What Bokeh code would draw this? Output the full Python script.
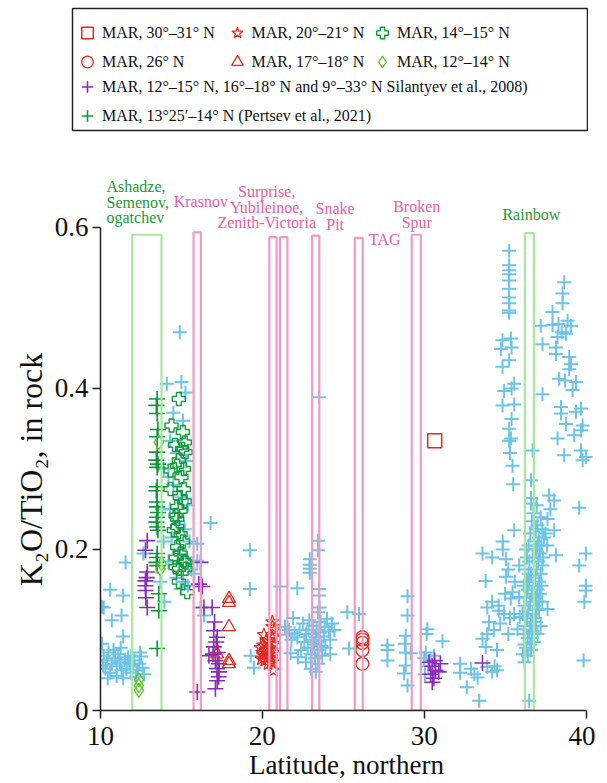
from bokeh.plotting import figure
from bokeh.models import Range1d, FixedTicker, Legend, LegendItem
from bokeh.core.properties import value
from bokeh.embed import file_html
from bokeh.resources import INLINE

FONT = "Liberation Serif"

# ---------------- data (latitude, K2O/TiO2) ----------------
other_points = [
    (10.2, 0.128), (10.6, 0.150), (11.4, 0.143), (11.55, 0.184), (10.7, 0.112), (11.3, 0.118),
    (11.4, 0.092), (10.1, 0.083), (10.1, 0.129), (10.2, 0.068), (10.4, 0.062), (10.5, 0.072),
    (10.7, 0.058), (10.9, 0.065), (11.0, 0.055), (11.1, 0.070), (11.2, 0.060), (11.3, 0.050),
    (11.5, 0.063), (11.6, 0.052), (11.8, 0.058), (11.9, 0.047), (12.0, 0.055), (12.1, 0.062),
    (12.3, 0.050), (12.4, 0.058), (12.6, 0.053), (12.7, 0.045), (10.3, 0.052), (10.6, 0.047),
    (11.0, 0.043), (11.4, 0.040), (11.7, 0.066), (12.2, 0.042), (10.15, 0.056), (11.9, 0.068),
    (12.5, 0.067), (12.65, 0.195), (10.8, 0.075), (11.25, 0.078), (12.45, 0.072), (10.45, 0.04),
    (14.9, 0.470), (14.1, 0.406), (15.0, 0.408), (15.25, 0.395), (14.5, 0.370), (15.1, 0.360),
    (14.3, 0.335), (14.7, 0.320), (15.3, 0.310), (14.2, 0.290), (14.5, 0.280), (15.0, 0.265),
    (15.4, 0.255), (14.3, 0.250), (14.8, 0.235), (15.2, 0.225), (14.4, 0.215), (15.5, 0.210),
    (14.9, 0.200), (15.3, 0.190), (14.2, 0.185), (15.6, 0.175), (14.7, 0.165), (15.1, 0.160),
    (15.4, 0.155), (14.95, 0.151), (15.8, 0.170), (13.9, 0.300), (13.8, 0.250), (13.9, 0.210),
    (13.7, 0.160), (13.95, 0.135),
    (15.98, 0.207), (16.8, 0.233), (16.18, 0.128), (16.4, 0.118), (15.98, 0.186),
    (19.23, 0.199), (19.23, 0.151), (21.1, 0.154), (22.16, 0.152), (19.28, 0.068), (19.48, 0.053),
    (21.75, 0.071),
    (23.44, 0.211), (23.44, 0.199), (22.93, 0.188), (22.93, 0.181), (22.93, 0.176), (22.93, 0.171),
    (23.5, 0.151), (23.5, 0.143), (23.54, 0.128), (23.44, 0.122), (23.5, 0.389),
    (21.4, 0.104), (21.5, 0.094), (21.65, 0.100), (21.8, 0.088), (22.0, 0.096), (22.16, 0.091),
    (22.3, 0.100), (22.5, 0.108), (22.6, 0.085), (22.7, 0.095), (22.8, 0.078), (22.85, 0.100),
    (22.9, 0.112), (23.0, 0.070), (23.05, 0.088), (23.1, 0.095), (23.15, 0.105), (23.2, 0.082),
    (23.25, 0.065), (23.3, 0.091), (23.35, 0.100), (23.4, 0.075), (23.45, 0.058), (23.5, 0.086),
    (23.55, 0.097), (23.6, 0.110), (23.65, 0.080), (23.7, 0.068), (23.8, 0.092), (23.85, 0.104),
    (23.9, 0.078), (24.0, 0.114), (24.1, 0.098), (24.2, 0.088), (24.3, 0.108), (24.45, 0.100),
    (23.0, 0.052), (22.7, 0.060), (23.3, 0.048), (24.2, 0.070), (22.4, 0.075), (21.9, 0.115),
    (22.2, 0.066),
    (25.25, 0.122), (25.97, 0.120), (25.36, 0.077),
    (27.73, 0.081), (27.73, 0.075), (27.73, 0.062), (28.97, 0.142), (28.97, 0.118), (28.86, 0.093),
    (28.8, 0.083), (28.86, 0.072), (29.17, 0.071), (28.86, 0.056), (28.76, 0.046), (28.97, 0.031),
    (30.2, 0.101), (30.15, 0.095), (31.13, 0.086), (30.1, 0.072), (30.4, 0.062), (30.0, 0.065),
    (30.25, 0.055), (30.6, 0.068), (30.05, 0.045),
    (32.22, 0.058), (32.22, 0.047), (32.64, 0.029), (33.4, 0.012), (33.3, 0.041), (34.5, 0.050),
    (33.9, 0.054), (34.2, 0.048), (34.35, 0.055), (32.9, 0.052), (33.1, 0.045),
    (33.6, 0.089), (33.9, 0.095), (33.8, 0.079), (34.5, 0.075), (34.0, 0.110), (34.7, 0.108),
    (35.2, 0.095), (33.9, 0.128), (34.2, 0.135), (34.6, 0.124), (34.94, 0.120), (35.46, 0.147),
    (35.35, 0.139), (35.87, 0.141), (35.56, 0.120), (35.9, 0.116), (35.77, 0.101), (33.8, 0.161),
    (35.05, 0.166), (33.6, 0.195), (34.2, 0.190), (34.85, 0.200), (34.85, 0.210), (35.05, 0.188),
    (35.56, 0.224), (35.87, 0.180), (35.5, 0.281), (34.6, 0.130), (35.0, 0.145), (35.3, 0.115),
    (34.3, 0.100), (35.6, 0.160), (35.2, 0.175),
    (36.1, 0.070), (36.2, 0.082), (36.15, 0.095), (36.3, 0.078), (36.25, 0.105), (36.4, 0.090),
    (36.35, 0.115), (36.5, 0.100), (36.45, 0.125), (36.6, 0.110), (36.55, 0.135), (36.7, 0.120),
    (36.65, 0.145), (36.8, 0.130), (36.75, 0.155), (36.9, 0.140), (36.85, 0.165), (37.0, 0.150),
    (36.95, 0.175), (37.1, 0.160), (37.05, 0.185), (37.2, 0.170), (37.15, 0.195), (37.3, 0.180),
    (37.25, 0.205), (37.35, 0.190), (37.1, 0.215), (37.3, 0.225), (37.2, 0.240), (37.0, 0.230),
    (36.9, 0.200), (36.8, 0.210), (36.7, 0.190), (36.6, 0.170), (36.5, 0.160), (36.4, 0.150),
    (36.3, 0.140), (36.2, 0.130), (36.1, 0.120), (36.15, 0.155), (36.25, 0.175), (36.35, 0.190),
    (36.45, 0.205), (36.55, 0.220), (36.65, 0.235), (36.75, 0.245), (36.2, 0.060), (36.4, 0.068),
    (36.6, 0.075), (36.8, 0.085), (37.0, 0.095), (37.2, 0.105), (36.9, 0.110), (37.1, 0.125),
    (37.3, 0.135), (36.3, 0.200), (36.5, 0.185), (36.95, 0.255), (37.4, 0.215), (36.7, 0.098),
    (36.85, 0.115), (36.95, 0.125), (37.05, 0.135), (36.75, 0.105), (36.65, 0.09), (36.55, 0.082),
    (37.15, 0.145), (37.25, 0.155), (36.45, 0.17), (36.35, 0.16), (37.0, 0.205), (36.9, 0.225),
    (37.62, 0.238), (38.03, 0.224), (37.72, 0.267), (38.03, 0.261), (38.14, 0.193), (37.62, 0.126),
    (39.58, 0.252), (39.99, 0.195), (39.58, 0.180), (39.99, 0.155), (39.99, 0.149), (39.9, 0.135),
    (39.85, 0.062), (36.49, 0.012), (36.6, 0.286), (36.6, 0.264), (36.6, 0.257), (37.6, 0.205),
    (37.8, 0.250), (37.5, 0.220),
    (35.25, 0.571), (35.25, 0.553), (35.25, 0.547), (35.25, 0.542), (35.25, 0.534), (35.25, 0.524),
    (35.25, 0.513), (35.25, 0.506), (35.25, 0.497), (35.25, 0.494), (34.84, 0.460), (35.36, 0.462),
    (35.4, 0.451), (34.74, 0.449), (35.25, 0.435), (34.84, 0.427), (35.56, 0.406), (34.94, 0.397),
    (35.4, 0.400), (34.84, 0.379), (35.56, 0.380), (35.4, 0.362), (35.25, 0.350), (35.36, 0.338),
    (35.25, 0.335), (35.46, 0.304), (35.3, 0.320),
    (38.65, 0.532), (38.55, 0.518), (38.55, 0.506), (37.93, 0.495), (37.2, 0.478), (37.93, 0.479),
    (38.86, 0.484), (39.07, 0.478), (38.76, 0.468), (38.24, 0.464), (37.31, 0.455), (38.14, 0.451),
    (38.14, 0.443), (38.96, 0.439), (39.07, 0.430), (38.96, 0.424), (38.34, 0.412), (38.7, 0.410),
    (39.38, 0.408), (39.17, 0.398), (37.31, 0.393), (38.45, 0.377), (38.45, 0.369), (39.38, 0.371),
    (39.69, 0.375), (38.76, 0.356), (39.79, 0.354), (39.69, 0.348), (38.24, 0.338), (39.27, 0.342),
    (39.69, 0.323), (39.99, 0.315), (39.79, 0.311), (38.65, 0.317), (36.7, 0.323), (38.5, 0.470),
    (38.3, 0.480),
]

silantyev_points = [
    (12.89, 0.211), (12.78, 0.199), (12.89, 0.172), (12.78, 0.161), (12.78, 0.155), (12.78, 0.149),
    (12.89, 0.128), (12.85, 0.165), (12.8, 0.140),
    (16.18, 0.184), (16.08, 0.157), (16.29, 0.154), (16.39, 0.128), (16.9, 0.128), (17.0, 0.099),
    (17.21, 0.091), (17.0, 0.079), (16.7, 0.068), (17.1, 0.062), (17.32, 0.058), (17.32, 0.048),
    (17.21, 0.037), (17.1, 0.027), (15.98, 0.023), (17.15, 0.085), (17.25, 0.072), (17.05, 0.110),
    (16.95, 0.070), (17.2, 0.052), (17.3, 0.042),
    (30.3, 0.060), (30.5, 0.055), (30.7, 0.050), (30.4, 0.045), (30.6, 0.040), (30.5, 0.035),
    (30.9, 0.048), (31.0, 0.058), (30.65, 0.062), (33.6, 0.059),
]

pertsev_points = [
    (13.5, 0.387), (13.45, 0.379), (13.5, 0.369), (13.55, 0.349), (13.5, 0.340), (13.5, 0.321),
    (13.45, 0.311), (13.55, 0.306), (13.5, 0.302), (13.5, 0.278), (13.45, 0.273), (13.5, 0.259),
    (13.5, 0.253), (13.55, 0.246), (13.5, 0.240), (13.45, 0.234), (13.5, 0.228), (13.55, 0.224),
    (13.5, 0.195), (13.5, 0.190), (13.45, 0.184), (13.5, 0.180), (13.6, 0.145), (13.6, 0.124),
    (13.5, 0.077),
]

mar14_15_points = [
    (14.84, 0.387), (14.39, 0.354), (15.09, 0.346), (15.21, 0.333), (15.05, 0.325), (15.26, 0.321),
    (14.84, 0.311), (14.74, 0.304), (14.33, 0.298), (15.15, 0.300), (14.33, 0.275), (15.15, 0.275),
    (14.74, 0.253), (14.95, 0.248), (14.64, 0.242), (14.74, 0.228), (14.95, 0.219), (14.74, 0.203),
    (14.64, 0.190), (15.15, 0.186), (15.26, 0.176), (14.64, 0.178), (14.74, 0.238), (14.53, 0.224),
    (14.95, 0.195), (14.84, 0.176), (15.26, 0.184), (15.36, 0.147), (15.0, 0.290), (14.9, 0.265),
    (15.2, 0.260), (14.6, 0.330), (15.1, 0.210), (14.85, 0.160),
]

mar12_14_points = [(12.37, 0.038), (12.37, 0.031), (12.37, 0.025), (13.71, 0.176), (13.78, 0.182), (13.6, 0.333)]
mar17_18_points = [(17.94, 0.139), (17.94, 0.134), (17.94, 0.104), (17.21, 0.070), (17.94, 0.062), (17.94, 0.058)]
mar20_21_points = [
    (20.62, 0.110), (20.62, 0.104), (20.1, 0.094), (20.62, 0.090), (20.72, 0.083), (19.9, 0.078),
    (20.0, 0.072), (20.1, 0.068), (20.2, 0.075), (20.3, 0.065), (20.4, 0.070), (20.5, 0.078),
    (20.6, 0.060), (20.7, 0.072), (20.15, 0.062), (20.35, 0.058), (20.45, 0.085), (20.55, 0.066),
    (20.05, 0.081), (20.25, 0.088), (20.68, 0.050), (20.75, 0.100), (20.3, 0.076), (19.95, 0.064),
]
mar26_points = [(26.18, 0.091), (26.18, 0.088), (26.18, 0.084), (26.18, 0.075), (26.18, 0.058)]
mar30_31_points = [(30.65, 0.335)]

# hydrothermal fields: latitude band and height of frame
field_names = ["Ashadze", "Krasnov", "Surprise", "Yubileinoe", "Snake Pit", "TAG", "Broken Spur", "Rainbow"]
field_west = [11.96, 15.75, 20.43, 21.09, 23.07, 25.71, 29.23, 36.22]
field_east = [13.77, 16.20, 20.88, 21.55, 23.52, 26.20, 29.79, 36.78]
field_top = [0.591, 0.594, 0.588, 0.588, 0.590, 0.587, 0.591, 0.593]
field_green = [True, False, False, False, False, False, False, True]

# field captions (line text, latitude anchor, value anchor)
green_caption_lines = ["Ashadze,", "Semenov,", "ogatchev"]
green_caption_x = [10.37, 10.37, 10.37]
green_caption_y = [0.6515, 0.6316, 0.6130]
pink_caption_lines = ["Krasnov", "Surprise,", "Yubileinoe,", "Zenith-Victoria", "Snake", "Pit", "TAG", "Broken", "Spur"]
pink_caption_x = [16.2, 20.27, 20.27, 20.27, 24.5, 24.5, 27.57, 29.54, 29.54]
pink_caption_y = [0.6329, 0.6453, 0.6254, 0.6062, 0.6242, 0.6043, 0.5857, 0.6258, 0.6064]
rainbow_caption = ["Rainbow"]
rainbow_caption_x = [36.62]
rainbow_caption_y = [0.6164]

x_ticks = [10, 20, 30, 40]
y_ticks = [0, 0.2, 0.4, 0.6]
y_tick_labels = ["0", "0.2", "0.4", "0.6"]

legend_labels = [
    "MAR, 30°–31° N", "MAR, 26° N",
    "MAR, 12°–15° N, 16°–18° N and 9°–33° N Silantyev et al., 2008)",
    "MAR, 13°25′–14° N (Pertsev et al., 2021)",
    "MAR, 20°–21° N", "MAR, 17°–18° N",
    "MAR, 14°–15° N", "MAR, 12°–14° N",
]

# ---------------- colours ----------------
CYAN = "#6ec3e6"
PURPLE = "#8a2cb8"
DGREEN = "#0f963a"
PGREEN = "#139a3c"
LGREEN = "#5cbf2a"
RED = "#e12a1e"
PINK_BOX = "#f29ac3"
GREEN_BOX = "#abe6a0"
PINK_TXT = "#e6619f"
GREEN_TXT = "#1e963c"


def xs(pts):
    return [a for a, b in pts]


def ys(pts):
    return [b for a, b in pts]


STYLES = {
    "other": dict(marker="cross", size=14, line_color=CYAN, line_width=2),
    "silantyev": dict(marker="cross", size=16, line_color=PURPLE, line_width=1.6),
    "pertsev": dict(marker="cross", size=16, line_color=DGREEN, line_width=1.6),
    "m14": dict(marker="plus", size=13, line_color=PGREEN, fill_color=None, line_width=1.4),
    "m12": dict(marker="diamond", size=14, line_color=LGREEN, fill_color=None, line_width=1.3),
    "m17": dict(marker="triangle", size=13, line_color=RED, fill_color=None, line_width=1.3),
    "m20": dict(marker="star", size=14, line_color=RED, fill_color=None, line_width=1.2),
    "m26": dict(marker="circle", size=13, line_color=RED, fill_color=None, line_width=1.3),
    "m30": dict(marker="square", size=14, line_color=RED, fill_color=None, line_width=1.5),
}
SERIES = {
    "other": other_points, "silantyev": silantyev_points, "pertsev": pertsev_points,
    "m14": mar14_15_points, "m12": mar12_14_points, "m17": mar17_18_points,
    "m20": mar20_21_points, "m26": mar26_points, "m30": mar30_31_points,
}

# ---------------- main plot ----------------
p = figure(width=595, height=651, output_backend="svg", toolbar_location=None,
           x_range=Range1d(10, 40.4), y_range=Range1d(0, 0.718),
           min_border_left=100, min_border_right=3, min_border_top=0, min_border_bottom=73)
p.grid.visible = False
p.outline_line_color = None
p.background_fill_color = "white"

for key in ["other", "silantyev", "pertsev", "m14", "m12", "m17", "m20", "m26", "m30"]:
    pts = SERIES[key]
    p.scatter(xs(pts), ys(pts), **STYLES[key])

box_colors = [GREEN_BOX if g else PINK_BOX for g in field_green]
p.quad(left=field_west, right=field_east, bottom=[0] * len(field_west), top=field_top,
       fill_color=None, line_color=box_colors, line_width=2.2)

p.text(green_caption_x, green_caption_y, text=green_caption_lines, text_font=value(FONT),
       text_font_size="16px", text_color=GREEN_TXT, text_align="left", text_baseline="alphabetic")
p.text(pink_caption_x, pink_caption_y, text=pink_caption_lines, text_font=value(FONT),
       text_font_size="16px", text_color=PINK_TXT, text_align="center", text_baseline="alphabetic")
p.text(rainbow_caption_x, rainbow_caption_y, text=rainbow_caption, text_font=value(FONT),
       text_font_size="16px", text_color=GREEN_TXT, text_align="center", text_baseline="alphabetic")

for ax in (p.xaxis[0], p.yaxis[0]):
    ax.axis_line_color = "#222222"
    ax.axis_line_width = 1.5
    ax.major_tick_line_color = "#222222"
    ax.major_tick_line_width = 1.5
    ax.minor_tick_line_color = None
    ax.major_tick_in = 0
    ax.major_label_text_font = FONT
    ax.major_label_text_font_size = "27px"
    ax.major_label_text_color = "#111111"
    ax.axis_label_text_font = FONT
    ax.axis_label_text_font_style = "normal"
    ax.axis_label_text_color = "#111111"

p.xaxis.ticker = FixedTicker(ticks=x_ticks)
p.xaxis.bounds = (10, 40)
p.xaxis.major_tick_out = 8
p.xaxis.major_label_standoff = 8
p.xaxis.axis_label = "Latitude, northern"
p.xaxis.axis_label_text_font_size = "27px"
p.xaxis.axis_label_standoff = 2

p.yaxis.ticker = FixedTicker(ticks=y_ticks)
p.yaxis.bounds = (0, 0.6)
p.yaxis.major_tick_out = 8
p.yaxis.major_label_standoff = 4
p.yaxis.major_label_overrides = {t: s for t, s in zip(y_ticks, y_tick_labels)}
p.yaxis.axis_label = "K\u2082O/TiO\u2082, in rock\u2003\u2003\u2003"
p.yaxis.axis_label_text_font_size = "32px"
p.yaxis.axis_label_standoff = 3

# ---------------- legend panel ----------------
leg = figure(width=588, height=132, output_backend="svg", toolbar_location=None,
             x_range=Range1d(0, 1), y_range=Range1d(0, 1), x_axis_type=None, y_axis_type=None,
             min_border_left=72, min_border_right=1, min_border_top=8, min_border_bottom=2)
leg.grid.visible = False
leg.outline_line_color = "#222222"
leg.outline_line_width = 1.5

# legend swatches reuse the series (all points lie outside this panel's ranges)
lr = {}
for key in ["m30", "m26", "silantyev", "pertsev", "m20", "m17", "m14", "m12"]:
    pts = SERIES[key]
    lr[key] = leg.scatter(xs(pts), ys(pts), **STYLES[key])


def add_legend(pairs, loc):
    lg = Legend(items=[LegendItem(label=lab, renderers=[lr[k]]) for lab, k in pairs],
                location=loc, orientation="vertical", glyph_width=30, glyph_height=29,
                label_standoff=0, spacing=0, padding=0, margin=0,
                border_line_alpha=0, background_fill_alpha=0,
                label_text_font=FONT, label_text_font_size="16px", label_text_color="#111111")
    leg.add_layout(lg, "center")


add_legend([(legend_labels[0], "m30"), (legend_labels[1], "m26")], (0, 54))
add_legend([(legend_labels[2], "silantyev"), (legend_labels[3], "pertsev")], (0, 0))
add_legend([(legend_labels[4], "m20"), (legend_labels[5], "m17")], (149.5, 54))
add_legend([(legend_labels[6], "m14"), (legend_labels[7], "m12")], (295, 54))

open("out.html", "w").write(file_html([leg, p], INLINE))
